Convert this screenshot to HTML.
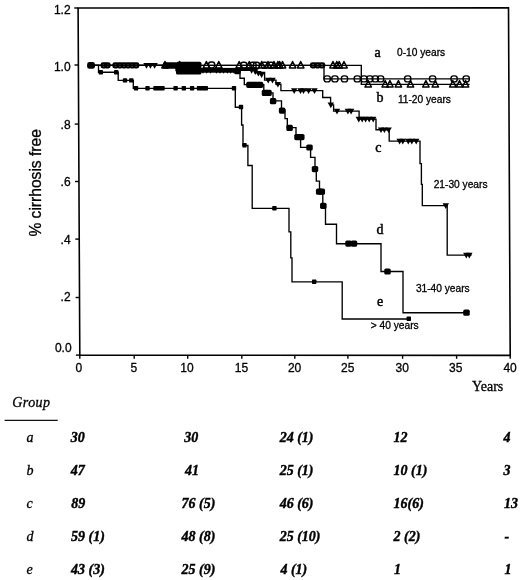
<!DOCTYPE html>
<html><head><meta charset="utf-8"><title>Cirrhosis-free survival</title>
<style>
html,body{margin:0;padding:0;background:#fff;}
body{width:520px;height:580px;overflow:hidden;}
svg{display:block;}
text{stroke:#000;stroke-width:0.3px;paint-order:stroke;}
.bi text{stroke-width:0.4px;}
.lg text{stroke-width:0.45px;}
</style></head>
<body>
<svg width="520" height="580" viewBox="0 0 520 580">
<rect width="520" height="580" fill="#fff"/>
<g stroke="#000" stroke-width="1.6" fill="none" stroke-linecap="square">
<path d="M78.1 8.0 L508.5 7.9 L510.2 355.4 L79.8 355.2 Z"/>
</g>
<g stroke="#000" stroke-width="1.4">
<line x1="74.2" y1="8.0" x2="78.1" y2="8.0"/>
<line x1="74.5" y1="65.0" x2="78.4" y2="65.0"/>
<line x1="74.7" y1="124.1" x2="78.6" y2="124.1"/>
<line x1="75.0" y1="181.5" x2="78.9" y2="181.5"/>
<line x1="75.3" y1="239.1" x2="79.2" y2="239.1"/>
<line x1="75.6" y1="297.5" x2="79.5" y2="297.5"/>
<line x1="75.9" y1="355.1" x2="79.8" y2="355.1"/>
</g>
<g stroke="#000" stroke-width="1.4">
<line x1="79.8" y1="355" x2="79.8" y2="358.8"/>
<line x1="134.2" y1="355" x2="134.2" y2="358.8"/>
<line x1="187.7" y1="355" x2="187.7" y2="358.8"/>
<line x1="241.8" y1="355" x2="241.8" y2="358.8"/>
<line x1="294.8" y1="355" x2="294.8" y2="358.8"/>
<line x1="347.9" y1="355" x2="347.9" y2="358.8"/>
<line x1="402.6" y1="355" x2="402.6" y2="358.8"/>
<line x1="456.6" y1="355" x2="456.6" y2="358.8"/>
<line x1="510.2" y1="355" x2="510.2" y2="358.8"/>
</g>
<g style="font-family:'Liberation Sans',Arial,sans-serif;font-size:12px" fill="#000" text-anchor="end">
<text x="70.6" y="13.8">1.2</text>
<text x="70.6" y="71.1">1.0</text>
<text x="70.6" y="128.5">.8</text>
<text x="70.6" y="185.8">.6</text>
<text x="70.6" y="243.5">.4</text>
<text x="70.6" y="300.8">.2</text>
<text x="71.6" y="352.2">0.0</text>
</g>
<g style="font-family:'Liberation Sans',Arial,sans-serif;font-size:12px" fill="#000" text-anchor="middle">
<text x="78.8" y="372.2">0</text>
<text x="133.8" y="372.2">5</text>
<text x="186.9" y="372.2">10</text>
<text x="241.5" y="372.2">15</text>
<text x="294.6" y="372.2">20</text>
<text x="347.8" y="372.2">25</text>
<text x="402.3" y="372.2">30</text>
<text x="455.7" y="372.2">35</text>
<text x="510.1" y="372.2">40</text>
</g>
<text x="472.0" y="390.8" style="font-family:'Liberation Serif','Times New Roman',serif;font-size:14px" fill="#000">Years</text>
<text transform="translate(40.8 236.6) rotate(-90)" style="font-family:'Liberation Sans',Arial,sans-serif;font-size:15.6px" fill="#000">% cirrhosis free</text>
<g stroke="#000" stroke-width="1.35" fill="none">
<path d="M88 65.3 H98.5 V72.2 H118.2 V80.4 H133.3 V88.3 H235.3 V107.2 H241.6 V125 H243 V145.3 H247.9 V165.5 H252.2 V208.3 H289 V231.9 H290.8 V257.8 H292 V281.8 H342.2 V319 H411"/>
<path d="M88 65.3 H176 V70.5 H240 V78.2 H244.3 V84.6 H263.8 V92.9 H273 V100.9 H281.5 V110 H285 V118.6 H287.3 V127.6 H296 V137.1 H300.6 V147.3 H310.6 V157.4 H315 V169.1 H316.3 V181.1 H319.5 V191.7 H322.8 V205.9 H325.5 V224.2 H336.5 V243.7 H381 V271.5 H403 V312.7 H466.5"/>
<path d="M88 65.3 H177 V70.3 H255 V72.5 H264.6 V80.1 H276 V84.2 H280.9 V90.6 H322.7 V97.5 H330.6 V104.9 H333.6 V111.1 H359.1 V119.1 H376.0 V129.7 H389.2 V141.1 H420 V163.6 H421.4 V184.3 H422.3 V205.6 H447.2 V255.1 H471.5"/>
<path d="M88 65.3 H361.3 V84.4 H469.6"/>
<path d="M88 65.3 H324 V78.9 H469.6"/>
</g>
<g fill="#000">
<rect x="98.60" y="70.00" width="4.4" height="4.4" rx="0.7"/>
<rect x="114.00" y="70.00" width="4.4" height="4.4" rx="0.7"/>
<rect x="122.80" y="78.20" width="4.4" height="4.4" rx="0.7"/>
<rect x="129.10" y="78.20" width="4.4" height="4.4" rx="0.7"/>
<rect x="133.80" y="86.10" width="4.4" height="4.4" rx="0.7"/>
<rect x="145.30" y="86.10" width="4.4" height="4.4" rx="0.7"/>
<rect x="153.30" y="86.10" width="4.4" height="4.4" rx="0.7"/>
<rect x="156.80" y="86.10" width="4.4" height="4.4" rx="0.7"/>
<rect x="160.30" y="86.10" width="4.4" height="4.4" rx="0.7"/>
<rect x="173.40" y="86.10" width="4.4" height="4.4" rx="0.7"/>
<rect x="181.60" y="86.10" width="4.4" height="4.4" rx="0.7"/>
<rect x="189.90" y="86.10" width="4.4" height="4.4" rx="0.7"/>
<rect x="196.80" y="86.10" width="4.4" height="4.4" rx="0.7"/>
<rect x="200.30" y="86.10" width="4.4" height="4.4" rx="0.7"/>
<rect x="203.60" y="86.10" width="4.4" height="4.4" rx="0.7"/>
<rect x="231.80" y="86.10" width="4.4" height="4.4" rx="0.7"/>
<rect x="238.80" y="104.80" width="4.4" height="4.4" rx="0.7"/>
<rect x="242.30" y="143.10" width="4.4" height="4.4" rx="0.7"/>
<rect x="272.20" y="206.10" width="4.4" height="4.4" rx="0.7"/>
<rect x="312.00" y="279.60" width="4.4" height="4.4" rx="0.7"/>
<rect x="406.60" y="316.60" width="4.4" height="4.4" rx="0.7"/>
</g>
<g fill="#000">
<rect x="176.25" y="67.70" width="6.5" height="6.2" rx="1.6"/>
<rect x="179.75" y="67.70" width="6.5" height="6.2" rx="1.6"/>
<rect x="183.25" y="67.70" width="6.5" height="6.2" rx="1.6"/>
<rect x="186.75" y="67.70" width="6.5" height="6.2" rx="1.6"/>
<rect x="190.25" y="67.70" width="6.5" height="6.2" rx="1.6"/>
<rect x="194.25" y="67.70" width="6.5" height="6.2" rx="1.6"/>
<rect x="234.25" y="68.10" width="6.5" height="6.2" rx="1.6"/>
<rect x="246.25" y="81.70" width="6.5" height="6.2" rx="1.6"/>
<rect x="249.75" y="81.70" width="6.5" height="6.2" rx="1.6"/>
<rect x="253.25" y="81.70" width="6.5" height="6.2" rx="1.6"/>
<rect x="256.75" y="81.70" width="6.5" height="6.2" rx="1.6"/>
<rect x="261.75" y="89.80" width="6.5" height="6.2" rx="1.6"/>
<rect x="265.25" y="89.80" width="6.5" height="6.2" rx="1.6"/>
<rect x="269.85" y="98.10" width="6.5" height="6.2" rx="1.6"/>
<rect x="278.85" y="107.50" width="6.5" height="6.2" rx="1.6"/>
<rect x="286.35" y="124.80" width="6.5" height="6.2" rx="1.6"/>
<rect x="294.25" y="134.00" width="6.5" height="6.2" rx="1.6"/>
<rect x="298.05" y="134.00" width="6.5" height="6.2" rx="1.6"/>
<rect x="306.25" y="144.40" width="6.5" height="6.2" rx="1.6"/>
<rect x="311.75" y="166.00" width="6.5" height="6.2" rx="1.6"/>
<rect x="315.95" y="188.60" width="6.5" height="6.2" rx="1.6"/>
<rect x="318.55" y="188.60" width="6.5" height="6.2" rx="1.6"/>
<rect x="320.05" y="202.70" width="6.5" height="6.2" rx="1.6"/>
<rect x="345.25" y="240.50" width="6.5" height="6.2" rx="1.6"/>
<rect x="350.75" y="240.50" width="6.5" height="6.2" rx="1.6"/>
<rect x="384.25" y="268.40" width="6.5" height="6.2" rx="1.6"/>
<rect x="463.25" y="309.60" width="6.5" height="6.2" rx="1.6"/>
</g>
<g fill="none" stroke="#000" stroke-width="2.3">
<rect x="311.05" y="63.30" width="4.5" height="4.0" rx="1.3"/>
<rect x="315.35" y="63.30" width="4.5" height="4.0" rx="1.3"/>
<rect x="319.65" y="63.30" width="4.5" height="4.0" rx="1.3"/>
<rect x="101.65" y="63.40" width="4.5" height="4.0" rx="1.3"/>
<rect x="105.05" y="63.40" width="4.5" height="4.0" rx="1.3"/>
<rect x="113.45" y="63.40" width="4.5" height="4.0" rx="1.3"/>
<rect x="117.55" y="63.40" width="4.5" height="4.0" rx="1.3"/>
<rect x="121.75" y="63.40" width="4.5" height="4.0" rx="1.3"/>
<rect x="125.85" y="63.40" width="4.5" height="4.0" rx="1.3"/>
<rect x="129.95" y="63.40" width="4.5" height="4.0" rx="1.3"/>
<rect x="133.75" y="63.40" width="4.5" height="4.0" rx="1.3"/>
</g>
<g fill="#000">
<rect x="163" y="62.2" width="14" height="6.6" rx="1.5"/>
<rect x="87.1" y="62.0" width="7.9" height="6.8" rx="2.4"/>
<rect x="176" y="61.8" width="25.4" height="12.6" rx="1.5"/>
<rect x="201" y="67.9" width="36" height="4.8"/>
<rect x="236" y="67.3" width="21" height="3.2"/>
</g>
<g fill="#000">
<path d="M143.30 63.00 H149.70 L146.50 68.70 Z"/>
<path d="M147.20 63.00 H153.60 L150.40 68.70 Z"/>
<path d="M151.40 63.00 H157.80 L154.60 68.70 Z"/>
<path d="M199.80 68.00 H206.20 L203.00 73.70 Z"/>
<path d="M203.50 68.00 H209.90 L206.70 73.70 Z"/>
<path d="M207.30 68.00 H213.70 L210.50 73.70 Z"/>
<path d="M213.30 68.00 H219.70 L216.50 73.70 Z"/>
<path d="M216.80 68.00 H223.20 L220.00 73.70 Z"/>
<path d="M220.40 68.00 H226.80 L223.60 73.70 Z"/>
<path d="M224.30 68.00 H230.70 L227.50 73.70 Z"/>
<path d="M227.50 68.00 H233.90 L230.70 73.70 Z"/>
<path d="M230.80 68.00 H237.20 L234.00 73.70 Z"/>
<path d="M248.40 68.00 H254.80 L251.60 73.70 Z"/>
<path d="M252.10 69.30 H258.50 L255.30 75.00 Z"/>
<path d="M255.20 70.90 H261.60 L258.40 76.60 Z"/>
<path d="M258.40 72.30 H264.80 L261.60 78.00 Z"/>
<path d="M265.00 77.80 H271.40 L268.20 83.50 Z"/>
<path d="M269.30 77.80 H275.70 L272.50 83.50 Z"/>
<path d="M274.70 81.90 H281.10 L277.90 87.60 Z"/>
<path d="M291.00 88.30 H297.40 L294.20 94.00 Z"/>
<path d="M297.30 88.30 H303.70 L300.50 94.00 Z"/>
<path d="M300.30 88.30 H306.70 L303.50 94.00 Z"/>
<path d="M305.40 88.30 H311.80 L308.60 94.00 Z"/>
<path d="M311.30 88.30 H317.70 L314.50 94.00 Z"/>
<path d="M327.60 102.60 H334.00 L330.80 108.30 Z"/>
<path d="M333.80 108.80 H340.20 L337.00 114.50 Z"/>
<path d="M344.70 108.80 H351.10 L347.90 114.50 Z"/>
<path d="M347.90 108.80 H354.30 L351.10 114.50 Z"/>
<path d="M355.60 116.80 H362.00 L358.80 122.50 Z"/>
<path d="M359.00 116.80 H365.40 L362.20 122.50 Z"/>
<path d="M362.40 116.80 H368.80 L365.60 122.50 Z"/>
<path d="M366.00 116.80 H372.40 L369.20 122.50 Z"/>
<path d="M370.00 116.80 H376.40 L373.20 122.50 Z"/>
<path d="M377.80 127.40 H384.20 L381.00 133.10 Z"/>
<path d="M381.20 127.40 H387.60 L384.40 133.10 Z"/>
<path d="M385.40 127.40 H391.80 L388.60 133.10 Z"/>
<path d="M396.40 138.80 H402.80 L399.60 144.50 Z"/>
<path d="M399.60 138.80 H406.00 L402.80 144.50 Z"/>
<path d="M405.10 138.80 H411.50 L408.30 144.50 Z"/>
<path d="M408.60 138.80 H415.00 L411.80 144.50 Z"/>
<path d="M413.00 138.80 H419.40 L416.20 144.50 Z"/>
<path d="M442.60 203.30 H449.00 L445.80 209.00 Z"/>
<path d="M463.10 252.80 H469.50 L466.30 258.50 Z"/>
<path d="M466.10 252.80 H472.50 L469.30 258.50 Z"/>
</g>
<g fill="none" stroke="#000" stroke-width="1.5" stroke-linejoin="round">
<path d="M161.80 67.90 H168.20 L165.00 61.50 Z"/>
<path d="M176.40 67.90 H182.80 L179.60 61.50 Z"/>
<path d="M203.20 67.90 H209.60 L206.40 61.50 Z"/>
<path d="M215.60 67.90 H222.00 L218.80 61.50 Z"/>
<path d="M236.00 67.90 H242.40 L239.20 61.50 Z"/>
<path d="M246.10 67.90 H252.50 L249.30 61.50 Z"/>
<path d="M258.50 67.90 H264.90 L261.70 61.50 Z"/>
<path d="M264.80 67.90 H271.20 L268.00 61.50 Z"/>
<path d="M270.80 67.90 H277.20 L274.00 61.50 Z"/>
<path d="M274.70 67.90 H281.10 L277.90 61.50 Z"/>
<path d="M276.40 67.90 H282.80 L279.60 61.50 Z"/>
<path d="M279.30 67.90 H285.70 L282.50 61.50 Z"/>
<path d="M289.40 67.90 H295.80 L292.60 61.50 Z"/>
<path d="M297.50 67.90 H303.90 L300.70 61.50 Z"/>
<path d="M329.80 67.90 H336.20 L333.00 61.50 Z"/>
<path d="M333.60 67.90 H340.00 L336.80 61.50 Z"/>
<path d="M336.00 67.90 H342.40 L339.20 61.50 Z"/>
<path d="M340.80 67.90 H347.20 L344.00 61.50 Z"/>
<path d="M365.00 87.00 H371.40 L368.20 80.60 Z"/>
<path d="M382.00 87.00 H388.40 L385.20 80.60 Z"/>
<path d="M386.70 87.00 H393.10 L389.90 80.60 Z"/>
<path d="M395.20 87.00 H401.60 L398.40 80.60 Z"/>
<path d="M407.30 87.00 H413.70 L410.50 80.60 Z"/>
<path d="M422.70 87.00 H429.10 L425.90 80.60 Z"/>
<path d="M432.10 87.00 H438.50 L435.30 80.60 Z"/>
<path d="M449.60 87.00 H456.00 L452.80 80.60 Z"/>
<path d="M456.30 87.00 H462.70 L459.50 80.60 Z"/>
<path d="M462.40 87.00 H468.80 L465.60 80.60 Z"/>
</g>
<g fill="none" stroke="#000" stroke-width="1.4">
<rect x="208.50" y="62.00" width="6.2" height="6.0" rx="2.4"/>
<rect x="240.70" y="62.30" width="6.2" height="6.0" rx="2.4"/>
<rect x="249.90" y="62.30" width="6.2" height="6.0" rx="2.4"/>
<rect x="253.40" y="62.30" width="6.2" height="6.0" rx="2.4"/>
<rect x="261.40" y="62.30" width="6.2" height="6.0" rx="2.4"/>
<rect x="267.90" y="62.30" width="6.2" height="6.0" rx="2.4"/>
<rect x="324.10" y="75.90" width="6.2" height="6.0" rx="2.4"/>
<rect x="331.80" y="75.90" width="6.2" height="6.0" rx="2.4"/>
<rect x="341.40" y="75.90" width="6.2" height="6.0" rx="2.4"/>
<rect x="354.20" y="75.90" width="6.2" height="6.0" rx="2.4"/>
<rect x="360.90" y="75.90" width="6.2" height="6.0" rx="2.4"/>
<rect x="366.70" y="75.90" width="6.2" height="6.0" rx="2.4"/>
<rect x="372.20" y="75.90" width="6.2" height="6.0" rx="2.4"/>
<rect x="377.50" y="75.90" width="6.2" height="6.0" rx="2.4"/>
<rect x="404.60" y="75.90" width="6.2" height="6.0" rx="2.4"/>
<rect x="429.50" y="75.90" width="6.2" height="6.0" rx="2.4"/>
<rect x="451.00" y="75.90" width="6.2" height="6.0" rx="2.4"/>
<rect x="463.10" y="75.90" width="6.2" height="6.0" rx="2.4"/>
</g>
<g class="lg" style="font-family:'Liberation Serif','Times New Roman',serif;font-size:14px" fill="#000">
<text x="374.6" y="56.5">a</text>
<text x="376.6" y="102.2">b</text>
<text x="375.3" y="152.1">c</text>
<text x="376.4" y="233.6">d</text>
<text x="377.0" y="306.1">e</text>
</g>
<g style="font-family:'Liberation Sans',Arial,sans-serif;font-size:10.2px" fill="#000">
<text x="397.0" y="55.9">0-10 years</text>
<text x="397.9" y="102.7">11-20 years</text>
<text x="433.7" y="187.8">21-30 years</text>
<text x="415.9" y="291.8">31-40 years</text>
<text x="370.8" y="329.2">&gt; 40 years</text>
</g>
<text x="12.3" y="406.9" style="font-family:'Liberation Serif','Times New Roman',serif;font-size:14px;font-style:italic;letter-spacing:0.4px" fill="#000">Group</text>
<line x1="4.6" y1="420.4" x2="57.7" y2="420.4" stroke="#111" stroke-width="1.2"/>
<g style="font-family:'Liberation Serif','Times New Roman',serif;font-size:14px;font-style:italic" fill="#000">
<text x="26.5" y="441.6">a</text>
<text x="26.5" y="474.7">b</text>
<text x="26.5" y="508.3">c</text>
<text x="26.5" y="541.0">d</text>
<text x="26.5" y="574.0">e</text>
</g>
<g class="bi" style="font-family:'Liberation Serif','Times New Roman',serif;font-size:14px;font-style:italic;font-weight:bold" fill="#000">
<text x="70.7" y="441.6">30</text>
<text x="184.3" y="441.6">30</text>
<text x="279.7" y="441.6">24 (1)</text>
<text x="393.5" y="441.6">12</text>
<text x="503.4" y="441.6">4</text>
<text x="70.7" y="474.7">47</text>
<text x="185.0" y="474.7">41</text>
<text x="279.7" y="474.7">25 (1)</text>
<text x="393.5" y="474.7">10 (1)</text>
<text x="503.4" y="474.7">3</text>
<text x="71.2" y="508.3">89</text>
<text x="181.5" y="508.3">76 (5)</text>
<text x="279.7" y="508.3">46 (6)</text>
<text x="393.5" y="508.3">16(6)</text>
<text x="504.0" y="508.3">13</text>
<text x="71.1" y="541.0">59 (1)</text>
<text x="181.5" y="541.0">48 (8)</text>
<text x="279.7" y="541.0">25 (10)</text>
<text x="393.5" y="541.0">2 (2)</text>
<text x="504.5" y="541.0">-</text>
<text x="71.1" y="574.0">43 (3)</text>
<text x="181.5" y="574.0">25 (9)</text>
<text x="280.4" y="574.0">4 (1)</text>
<text x="394.0" y="574.0">1</text>
<text x="504.5" y="574.0">1</text>
</g>
</svg>
</body></html>
